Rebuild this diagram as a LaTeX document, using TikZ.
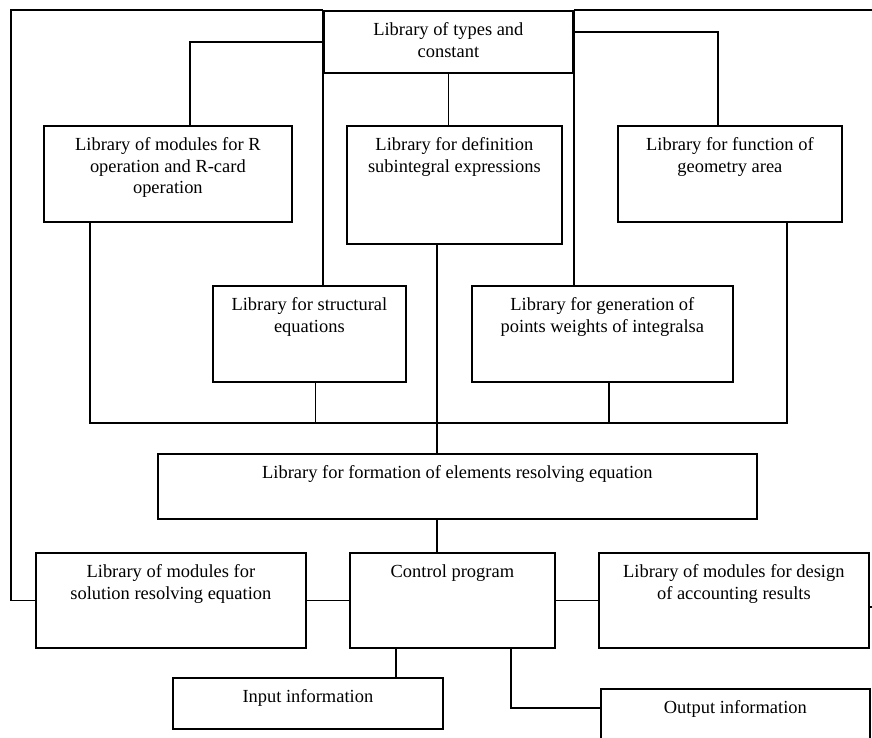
\documentclass[tikz,border=0pt]{standalone}
\usepackage{fontspec}
\setmainfont{Liberation Serif}
\usetikzlibrary{positioning, calc}

\begin{document}
\begin{tikzpicture}[
  x=0.02cm, y=-0.02cm,
  line width=1pt,
  box/.style 2 args={draw, anchor=north west, inner sep=0pt, minimum width=#1*0.02cm, minimum height=#2*0.02cm},
  txt/.style={anchor=north, align=center, inner sep=0pt, yshift=-0.24cm, font=\fontsize{10.5}{12.2}\selectfont},
]
\useasboundingbox (0,0) rectangle (872,737);
\clip (0,0) rectangle (872,737);

% Libraries
\node[box={249}{62}, label={[txt]north:{Library of types and\\ constant}}] (types) at (323,10) {};
\node[box={248}{96}, label={[txt]north:{Library of modules for R\\ operation and R-card\\ operation}}] (rmod) at (43,125) {};
\node[box={215}{118}, label={[txt]north:{Library for definition\\ subintegral expressions}}] (defn) at (346,125) {};
\node[box={224}{96}, label={[txt]north:{Library for function of\\ geometry area}}] (geom) at (617,125) {};
\node[box={193}{96}, label={[txt]north:{Library for structural\\ equations}}] (struct) at (212,285) {};
\node[box={261}{96}, label={[txt]north:{Library for generation of\\ points weights of integralsa}}] (points) at (471,285) {};
\node[box={599}{65}, label={[txt]north:{Library for formation of elements resolving equation}}] (form) at (157,453) {};

% Bottom row
\node[box={270}{95}, label={[txt]north:{Library of modules for\\ solution resolving equation}}] (solve) at (35,552) {};
\node[box={205}{95}, label={[txt]north:{Control program}}] (ctrl) at (349,552) {};
\node[box={270}{95}, label={[txt]north:{Library of modules for design\\ of accounting results}}] (design) at (598,552) {};
\node[box={270}{51}, label={[txt]north:{Input information}}] (input) at (172,677) {};
\node[box={269}{62}, label={[txt]north:{Output information}}] (output) at (600,688) {};

% Frame
\coordinate (frameTL) at (11,10);
\coordinate (frameTR) at (874,10);
\coordinate (frameR) at (874,607);
\draw (types.north west) -- (frameTL) |- (solve.west);
\draw (types.north east) -- (frameTR);
\draw (design.east |- frameR) -- (frameR);

% From the types library
\draw (types.north west) -- (types.north west |- struct.north);
\draw (types.north east) -- (types.north east |- points.north);
\draw (types.west) -| ([xshift=0.44cm]rmod.north);
\draw ([yshift=0.2cm]types.east) -| ([xshift=-0.24cm]geom.north);
\draw (types.south) -- (types.south |- defn.north);

% Bus under the libraries
\coordinate (busL) at (90,423);
\coordinate (busR) at (787,423);
\draw (rmod.south -| busL) -- (busL) -- (busR) -- (geom.south -| busR);
\draw ([xshift=0.12cm]struct.south) -- ([xshift=0.12cm]struct.south |- busL);
\draw ([xshift=0.13cm]points.south) -- ([xshift=0.13cm]points.south |- busL);

% Spine
\coordinate (spine) at (437,0);
\draw (spine |- defn.south) -- (spine |- form.north);
\draw (spine |- form.south) -- (spine |- ctrl.north);

% Control program links
\draw (solve.east) -- (ctrl.west);
\draw (ctrl.east) -- (design.west);
\draw ([xshift=0.94cm]ctrl.south west) -- ([xshift=0.94cm]ctrl.south west |- input.north);
\draw ([xshift=-0.9cm]ctrl.south east) |- ([yshift=-0.4cm]output.north west);
\end{tikzpicture}
\end{document}
